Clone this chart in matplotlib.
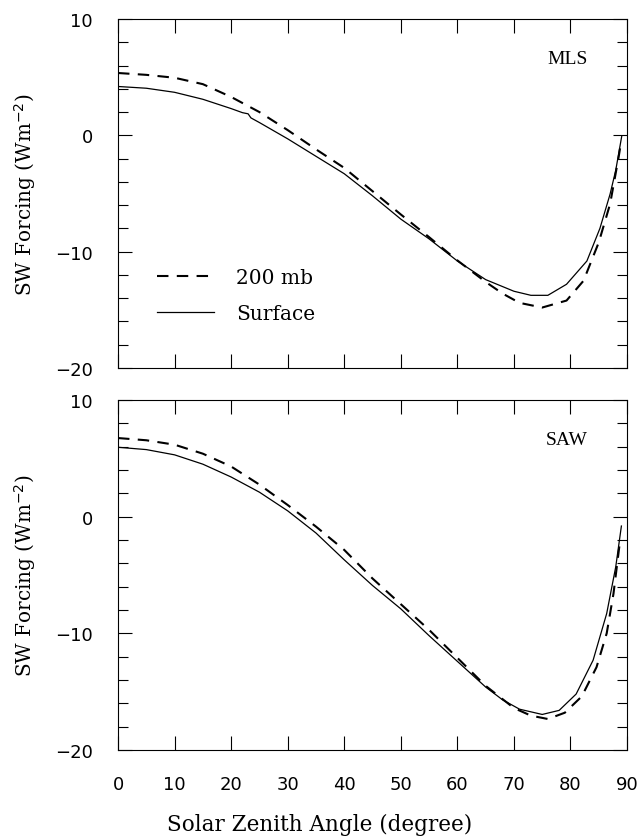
import matplotlib
matplotlib.use('Agg')
import matplotlib.pyplot as plt
from matplotlib.ticker import MultipleLocator

# MLS panel
mls_sfc_ang = [0, 5, 10, 15, 20, 22, 23, 23.5, 25, 30, 35, 40, 45, 50, 55, 60, 65,
               70, 73, 76, 79.3, 82.9, 85.2, 87, 88, 89.05]
mls_sfc = [4.2, 4.05, 3.7, 3.1, 2.3, 1.95, 1.85, 1.5, 1.1, -0.3, -1.8, -3.3, -5.2,
           -7.2, -8.9, -10.8, -12.4, -13.4, -13.75, -13.75, -12.8, -10.8, -8.0,
           -5.05, -3.0, -0.1]
mls_200_ang = [0, 5, 10, 15, 20, 25, 30, 35, 40, 45, 50, 55, 60, 65, 68, 71, 75,
               79.3, 82.3, 85, 87, 88.5, 88.8]
mls_200 = [5.36, 5.2, 4.95, 4.4, 3.3, 2.0, 0.45, -1.2, -2.8, -4.8, -6.8, -8.75,
           -10.75, -12.6, -13.6, -14.4, -14.8, -14.2, -12.5, -9.2, -5.9, -1.9, -1.0]

# SAW panel
saw_sfc_ang = [0, 5, 10, 15, 20, 25, 30, 35, 40, 45, 50, 55, 60, 65, 68, 71, 75,
               78, 81, 84, 86.4, 88, 89]
saw_sfc = [5.95, 5.75, 5.3, 4.5, 3.4, 2.1, 0.5, -1.4, -3.7, -5.9, -7.9, -10.2,
           -12.4, -14.6, -15.7, -16.5, -16.95, -16.6, -15.2, -12.3, -8.3, -4.3, -0.8]
saw_200_ang = [0, 5, 10, 15, 20, 25, 30, 35, 40, 45, 50, 55, 60, 65, 70, 73, 76,
               79, 82, 84.6, 86.4, 87.6, 88.8]
saw_200 = [6.74, 6.55, 6.17, 5.4, 4.3, 2.75, 1.0, -0.85, -2.85, -5.3, -7.5, -9.7,
           -12.1, -14.5, -16.4, -17.05, -17.34, -16.8, -15.4, -12.9, -10.0, -6.6, -1.9]

labels = ['200 mb', 'Surface']
xticks = [0, 10, 20, 30, 40, 50, 60, 70, 80, 90]

fig = plt.figure(figsize=(6.39, 8.37), dpi=100)
ax1 = fig.add_axes([0.1847, 0.5591, 0.7966, 0.4170])
ax2 = fig.add_axes([0.1847, 0.1027, 0.7966, 0.4182])

panels = [(ax1, 'MLS', mls_sfc_ang, mls_sfc, mls_200_ang, mls_200),
          (ax2, 'SAW', saw_sfc_ang, saw_sfc, saw_200_ang, saw_200)]

for ax, name, sa, sv, da, dv in panels:
    ax.plot(da, dv, color='black', lw=1.5, dashes=(5.5, 4), label=labels[0])
    ax.plot(sa, sv, color='black', lw=0.9, label=labels[1])
    ax.set_xlim(0, 90)
    ax.set_ylim(-20, 10)
    ax.set_xticks(xticks)
    ax.yaxis.set_major_locator(MultipleLocator(10))
    ax.yaxis.set_minor_locator(MultipleLocator(2))
    ax.tick_params(which='both', direction='in', top=True, right=True,
                   width=0.8, labelsize=13, pad=18)
    ax.tick_params(which='major', length=10)
    ax.tick_params(which='minor', length=7)
    for sp in ax.spines.values():
        sp.set_linewidth(0.8)
    ax.text(0.923, 0.888, name, transform=ax.transAxes, ha='right', va='center',
            family='Liberation Serif', fontsize=14)
    pos = ax.get_position()
    fig.text(25 / 639, pos.y0 + pos.height / 2,
             'SW Forcing (Wm$^{-2}$)', rotation=90, ha='center', va='center',
             family='DejaVu Serif', fontsize=14.4)

ax1.tick_params(labelbottom=False)
ax1.legend(loc='upper left', bbox_to_anchor=(0.0775, 0.287), frameon=False,
           handlelength=2.8, handletextpad=1.1, labelspacing=0.85,
           borderaxespad=0, borderpad=0,
           prop={'family': 'DejaVu Serif', 'size': 14.5})

fig.text(0.5, 0.0143, 'Solar Zenith Angle (degree)', ha='center', va='center',
         family='DejaVu Serif', fontsize=15.5)

fig.savefig('out.png', dpi=100)
